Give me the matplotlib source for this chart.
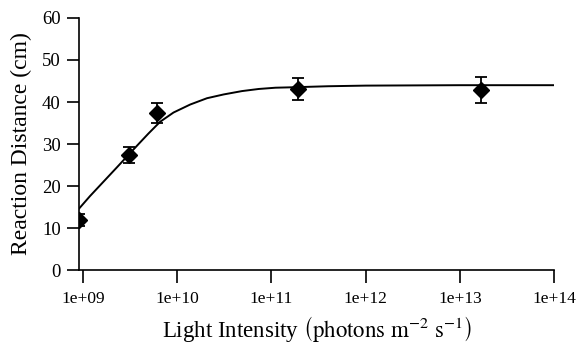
import matplotlib.pyplot as plt
import numpy as np

plt.rcParams['font.family'] = ['Liberation Serif', 'DejaVu Serif']
plt.rcParams['mathtext.fontset'] = 'stix'

# measured points
intensity = [9.1e8, 3.1e9, 6.1e9, 1.9e11, 1.67e13]
distance = [11.9, 27.3, 37.3, 43.1, 42.8]
err = [1.5, 1.9, 2.4, 2.6, 3.1]

# fitted curve (log10 of intensity)
curve_logx = [8.961, 9.074, 9.216, 9.358, 9.482, 9.59, 9.695, 9.819, 9.961, 10.138,
              10.316, 10.493, 10.688, 10.865, 11.043, 11.22, 11.6, 12.0, 13.0, 14.0]
curve_y = [14.7, 17.6, 21.0, 24.4, 27.4, 30.0, 32.5, 35.3, 37.5, 39.4,
           40.9, 41.8, 42.6, 43.1, 43.4, 43.5, 43.75, 43.9, 44.0, 44.0]

xticks = [1e9, 1e10, 1e11, 1e12, 1e13, 1e14]
xtick_labels = ['1e+09', '1e+10', '1e+11', '1e+12', '1e+13', '1e+14']
yticks = [0, 10, 20, 30, 40, 50, 60]

fig = plt.figure(figsize=(5.76, 3.45), dpi=100)
ax = fig.add_axes([0.137, 0.217, 0.825, 0.731])

ax.plot(10 ** np.array(curve_logx), curve_y, color='black', lw=1.4)
ax.errorbar(intensity, distance, yerr=err, fmt='D', color='black', ms=8,
            capsize=4, elinewidth=1.3, capthick=1.3)

ax.set_xscale('log')
ax.set_xlim(10**8.957, 1e14)
ax.set_ylim(0, 60)
ax.set_xticks(xticks)
ax.set_xticklabels(xtick_labels)
ax.minorticks_off()
ax.set_yticks(yticks)
ax.tick_params(axis='both', length=9, width=1.2, direction='out')
ax.tick_params(axis='x', labelsize=12.5, pad=6)
ax.tick_params(axis='y', labelsize=13.5, pad=4)
for s in ['top', 'right']:
    ax.spines[s].set_visible(False)
for s in ['left', 'bottom']:
    ax.spines[s].set_linewidth(1.2)

ax.set_ylabel('Reaction Distance (cm)', fontsize=17, labelpad=7)
ax.set_xlabel(r'Light Intensity $\left(\mathrm{photons\ m^{-2}\ s^{-1}}\right)$',
              fontsize=16.5, labelpad=5)

fig.savefig('out.png', dpi=100)
